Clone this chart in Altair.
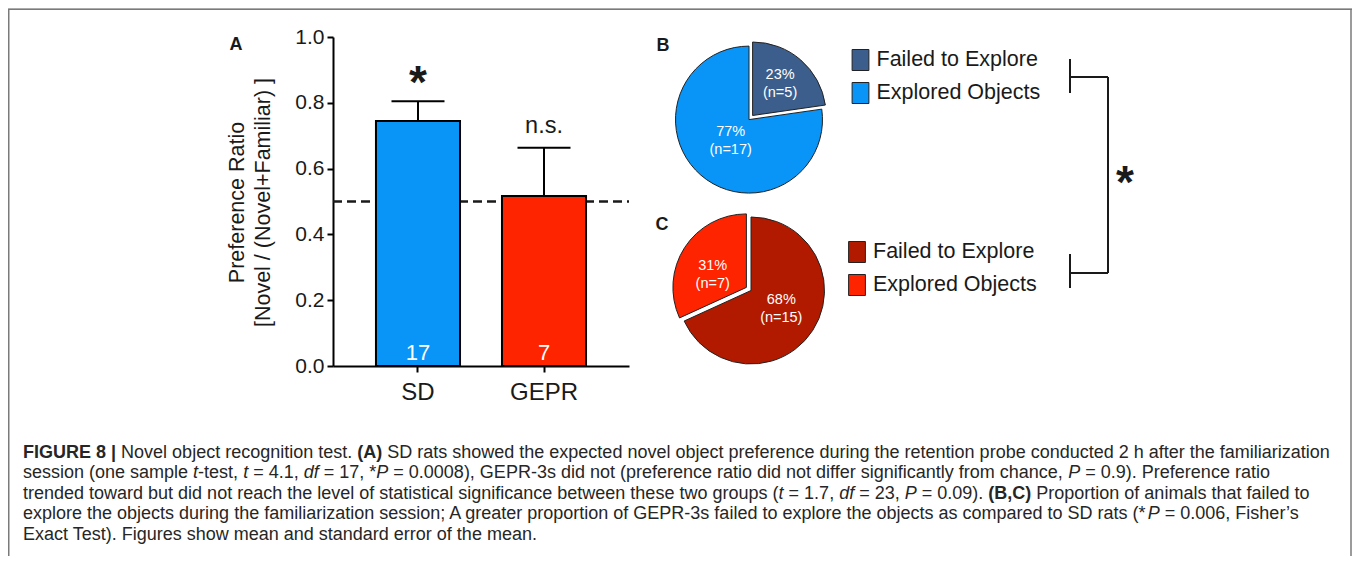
import altair as alt
import pandas as pd

# ---------------- data ----------------
groups = ["SD", "GEPR"]
pref_mean = [0.745, 0.517]
pref_sem = [0.060, 0.146]
group_n = ["17", "7"]
sig_marks = ["*", "n.s."]
y_ticks = [0.0, 0.2, 0.4, 0.6, 0.8, 1.0]
chance_level = [0.5]
y_title = ["Preference Ratio", "[Novel / (Novel+Familiar) ]"]

status = ["Failed to Explore", "Explored Objects"]
sd_counts = [5, 17]
sd_pct = ["23%", "77%"]
gepr_counts = [15, 7]
gepr_pct = ["68%", "31%"]

panel_letters = ["A", "B", "C"]

caption_runs = [
    [("FIGURE 8 | ", "b"), ("Novel object recognition test. ", "r"), ("(A)", "b"),
     (" SD rats showed the expected novel object preference during the retention probe conducted 2 h after the familiarization", "r")],
    [("session (one sample ", "r"), ("t", "i"), ("-test, ", "r"), ("t", "i"), (" = 4.1, ", "r"), ("df", "i"),
     (" = 17, *", "r"), ("P", "i"),
     (" = 0.0008), GEPR-3s did not (preference ratio did not differ significantly from chance, ", "r"),
     ("P", "i"), (" = 0.9). Preference ratio", "r")],
    [("trended toward but did not reach the level of statistical significance between these two groups (", "r"),
     ("t", "i"), (" = 1.7, ", "r"), ("df", "i"), (" = 23, ", "r"), ("P", "i"), (" = 0.09). ", "r"),
     ("(B,C)", "b"), (" Proportion of animals that failed to", "r")],
    [("explore the objects during the familiarization session; A greater proportion of GEPR-3s failed to explore the objects as compared to SD rats (*", "r"),
     ("P", "i"), (" = 0.006, Fisher\u2019s", "r")],
    [("Exact Test). Figures show mean and standard error of the mean.", "r")],
]

# ---------------- style ----------------
FONT = "Liberation Sans"
INK = "#1a1a1a"
BLUE = "#0994F7"
RED = "#FF2400"
SLATE = "#3B5E8C"
DARKRED = "#B21A00"
W, H = 1344, 548

# ---------------- bar chart (panel A) ----------------
bar_df = pd.DataFrame({"group": groups, "mean": pref_mean, "sem": pref_sem,
                       "n": group_n, "sig": sig_marks})
bar_df["upper"] = bar_df["mean"] + bar_df["sem"]
chance_df = pd.DataFrame({"level": chance_level})

X_AXIS = alt.Axis(title=None, orient="bottom", offset=-(H - 358), labelFontSize=24, labelPadding=8,
                  tickSize=6, tickWidth=2, tickColor="black", domainColor="black", domainWidth=2,
                  labelColor=INK, labelAngle=0, labelFont=FONT)
Y_AXIS = alt.Axis(title=y_title, orient="left", offset=-325, values=y_ticks, format=".1f",
                  labelFontSize=21, labelPadding=3, tickSize=6, tickWidth=2, tickColor="black",
                  domainColor="black", domainWidth=2, labelColor=INK, grid=False, labelFont=FONT,
                  titleFont=FONT, titleFontSize=21.5, titleFontWeight="normal", titleLineHeight=26,
                  titleColor=INK, titleX=-96, titleY=194, titleBaseline="middle", titleAlign="center")

xs = alt.Scale(domain=groups, range=[325, 621], paddingInner=0.333, paddingOuter=0.341)
ys = alt.Scale(domain=[0, 1], range=[358, 29], nice=False, zero=True)


def X():
    return alt.X("group:N", sort=groups, scale=xs, axis=X_AXIS)


def Y(field):
    return alt.Y(f"{field}:Q", scale=ys, axis=Y_AXIS)


base = alt.Chart(bar_df)
bars = base.mark_bar(stroke="black", strokeWidth=2, opacity=1).encode(
    x=X(), y=Y("mean"),
    color=alt.Color("group:N", scale=alt.Scale(domain=groups, range=[BLUE, RED]), legend=None))
chance = alt.Chart(chance_df).mark_rule(strokeDash=[9, 5], strokeWidth=2.5, color=INK).encode(
    y=Y("level"), x=alt.value(325), x2=alt.value(621))
err = base.mark_rule(strokeWidth=2, color="black").encode(x=X(), y=Y("mean"), y2="upper:Q")
cap = base.mark_tick(size=53, thickness=2, color="black", opacity=1).encode(x=X(), y=Y("upper"))
star = base.transform_filter(alt.datum.sig == "*").mark_text(
    fontSize=46, fontWeight="bold", dy=-3, baseline="alphabetic", font=FONT, color=INK).encode(
    x=X(), y=Y("upper"), text="sig:N")
ns = base.transform_filter(alt.datum.sig != "*").mark_text(
    fontSize=23.5, dy=-15, baseline="alphabetic", font=FONT, color=INK).encode(
    x=X(), y=Y("upper"), text="sig:N")
nlab = base.mark_text(fontSize=22, color="white", baseline="alphabetic", dy=-6, font=FONT).encode(
    x=X(), y=alt.YDatum(0.0, scale=ys, axis=Y_AXIS), text="n:N")

bar_group = alt.layer(chance, bars, err, cap, star, ns, nlab)

# ---------------- pies (panels B, C) ----------------


def pie_layers(counts, pcts, colors, exploded, center, ex_center, r_main, r_ex, dy_main, dy_ex,
               legend_xy):
    df = pd.DataFrame({"status": status, "n": counts, "ord": [0, 1],
                       "label": [f"{p}\n(n={c})" for p, c in zip(pcts, counts)]})
    theta = alt.Theta("n:Q", stack=True)
    order = alt.Order("ord:Q")
    cscale = alt.Scale(domain=status, range=colors)
    leg = alt.Legend(orient="none", legendX=legend_xy[0], legendY=legend_xy[1], title=None,
                     symbolType="M-0.8,-1H0.8V1H-0.8Z", symbolSize=441, symbolStrokeColor="#222",
                     symbolStrokeWidth=1, symbolOpacity=1, labelFontSize=21.5, labelFont=FONT,
                     labelColor=INK, labelOffset=5, rowPadding=7, padding=0, labelLimit=400)
    is_ex = alt.datum.status == exploded
    pc = alt.Chart(df)
    main = pc.mark_arc(outerRadius=73.5, stroke="#222", strokeWidth=1).encode(
        theta=theta, order=order, color=alt.Color("status:N", scale=cscale, legend=leg),
        opacity=alt.when(is_ex).then(alt.value(0)).otherwise(alt.value(1)),
        x=alt.value(center[0]), y=alt.value(center[1]))
    expl = pc.mark_arc(outerRadius=73.5, stroke="#222", strokeWidth=1).encode(
        theta=theta, order=order, color=alt.Color("status:N", scale=cscale, legend=None),
        opacity=alt.when(is_ex).then(alt.value(1)).otherwise(alt.value(0)),
        x=alt.value(ex_center[0]), y=alt.value(ex_center[1]))
    tmain = pc.mark_text(radius=r_main, fontSize=14.5, color="white", lineBreak="\n", lineHeight=18,
                         font=FONT, align="center", baseline="middle", dy=dy_main).encode(
        theta=theta, order=order, text="label:N",
        opacity=alt.when(is_ex).then(alt.value(0)).otherwise(alt.value(1)),
        x=alt.value(center[0]), y=alt.value(center[1]))
    tex = pc.mark_text(radius=r_ex, fontSize=14.5, color="white", lineBreak="\n", lineHeight=18,
                       font=FONT, align="center", baseline="middle", dy=dy_ex).encode(
        theta=theta, order=order, text="label:N",
        opacity=alt.when(is_ex).then(alt.value(1)).otherwise(alt.value(0)),
        x=alt.value(ex_center[0]), y=alt.value(ex_center[1]))
    return [main, expl, tmain, tex]


pieB = pie_layers(sd_counts, sd_pct, [SLATE, BLUE], "Failed to Explore",
                  (741, 111.6), (744.6, 107.5), 28, 42, -9, -9, (841.5, 41))
pieC = pie_layers(gepr_counts, gepr_pct, [DARKRED, RED], "Explored Objects",
                  (743, 282.5), (738.4, 279.4), 36, 40, -10, 0, (838, 233))

# ---------------- annotations ----------------


def seg(x1, y1, x2, y2, color=INK, width=2):
    return alt.Chart(chance_df).mark_rule(color=color, strokeWidth=width).encode(
        x=alt.value(x1), y=alt.value(y1), x2=alt.value(x2), y2=alt.value(y2))


bracket = [
    seg(1100, 69, 1100, 265), seg(1062, 69, 1100, 69), seg(1062, 265, 1100, 265),
    seg(1062, 51, 1062, 85), seg(1062, 246, 1062, 280),
]
border = [
    seg(0.75, 1, 0.75, H, "#7a7a7a", 1.5), seg(0, 1.25, 1344, 1.25, "#7a7a7a", 1.5),
    seg(1343, 1, 1343, H, "#7a7a7a", 1.5),
]


def label(text, x, y, size, weight="bold"):
    return alt.Chart(pd.DataFrame({"t": [text]})).mark_text(
        fontSize=size, fontWeight=weight, font=FONT, color=INK, align="center",
        baseline="alphabetic").encode(text="t:N", x=alt.value(x), y=alt.value(y))


letters = [label(panel_letters[0], 228, 41.5, 18), label(panel_letters[1], 655, 42.5, 18),
           label(panel_letters[2], 654, 221.5, 18), label("*", 1117, 190, 46)]

# ---------------- caption (rich text laid out as runs) ----------------
_reg = {" ": 278, "(": 333, ")": 333, "*": 389, ",": 278, "-": 333, ".": 278, ";": 278, "=": 584,
        "|": 260, "\u2019": 222, "'": 191}
for ch in "0123456789":
    _reg[ch] = 556
_reg.update(dict(zip("ABCDEFGHIJKLMNOPQRSTUVWXYZ",
                     [667, 667, 722, 722, 667, 611, 778, 722, 278, 500, 667, 556, 833, 722, 778, 667,
                      778, 722, 667, 611, 722, 667, 944, 667, 667, 611])))
_reg.update(dict(zip("abcdefghijklmnopqrstuvwxyz",
                     [556, 556, 500, 556, 556, 278, 556, 556, 222, 222, 500, 222, 833, 556, 556, 556,
                      556, 333, 500, 278, 556, 500, 722, 500, 500, 500])))
_bold = dict(_reg)
_bold.update({"|": 280, "A": 722, "B": 722, "C": 722, "E": 667, "F": 611, "G": 778, "I": 278,
              "R": 722, "U": 722, "8": 556})


def units(s, st):
    tb = _bold if st == "b" else _reg
    return sum(tb.get(c, 556) for c in s) / 1000.0


cap_fs = 1307.0 / sum(units(t, s) for t, s in caption_runs[0])
baselines = [449.5, 470, 490.5, 511, 531.5]
rows = []
for line, yb in zip(caption_runs, baselines):
    x = 15.0
    for t, s in line:
        lead = len(t) - len(t.lstrip(" "))
        rows.append({"x": x + units(t[:lead], s) * cap_fs, "y": yb, "t": t.strip(" "), "s": s})
        x += units(t, s) * cap_fs
cap_df = pd.DataFrame(rows)

capt = []
for st, kw in [("r", {}), ("b", {"fontWeight": "bold"}), ("i", {"fontStyle": "italic"})]:
    capt.append(alt.Chart(cap_df).transform_filter(alt.datum.s == st).mark_text(
        fontSize=cap_fs, font=FONT, color="#262626", align="left", baseline="alphabetic", **kw).encode(
        x=alt.X("x:Q", scale=None, axis=None), y=alt.Y("y:Q", scale=None, axis=None), text="t:N"))

chart = alt.layer(*border, bar_group, *pieB, *pieC, *bracket, *letters, *capt).resolve_scale(
    color="independent", x="independent", y="independent").resolve_axis(
    x="independent", y="independent").properties(
    width=W, height=H, autosize=alt.AutoSizeParams(type="none"), padding=0
).configure_view(stroke=None).configure(font=FONT)

chart.save("out.html", embed_options={"renderer": "svg", "actions": False})
